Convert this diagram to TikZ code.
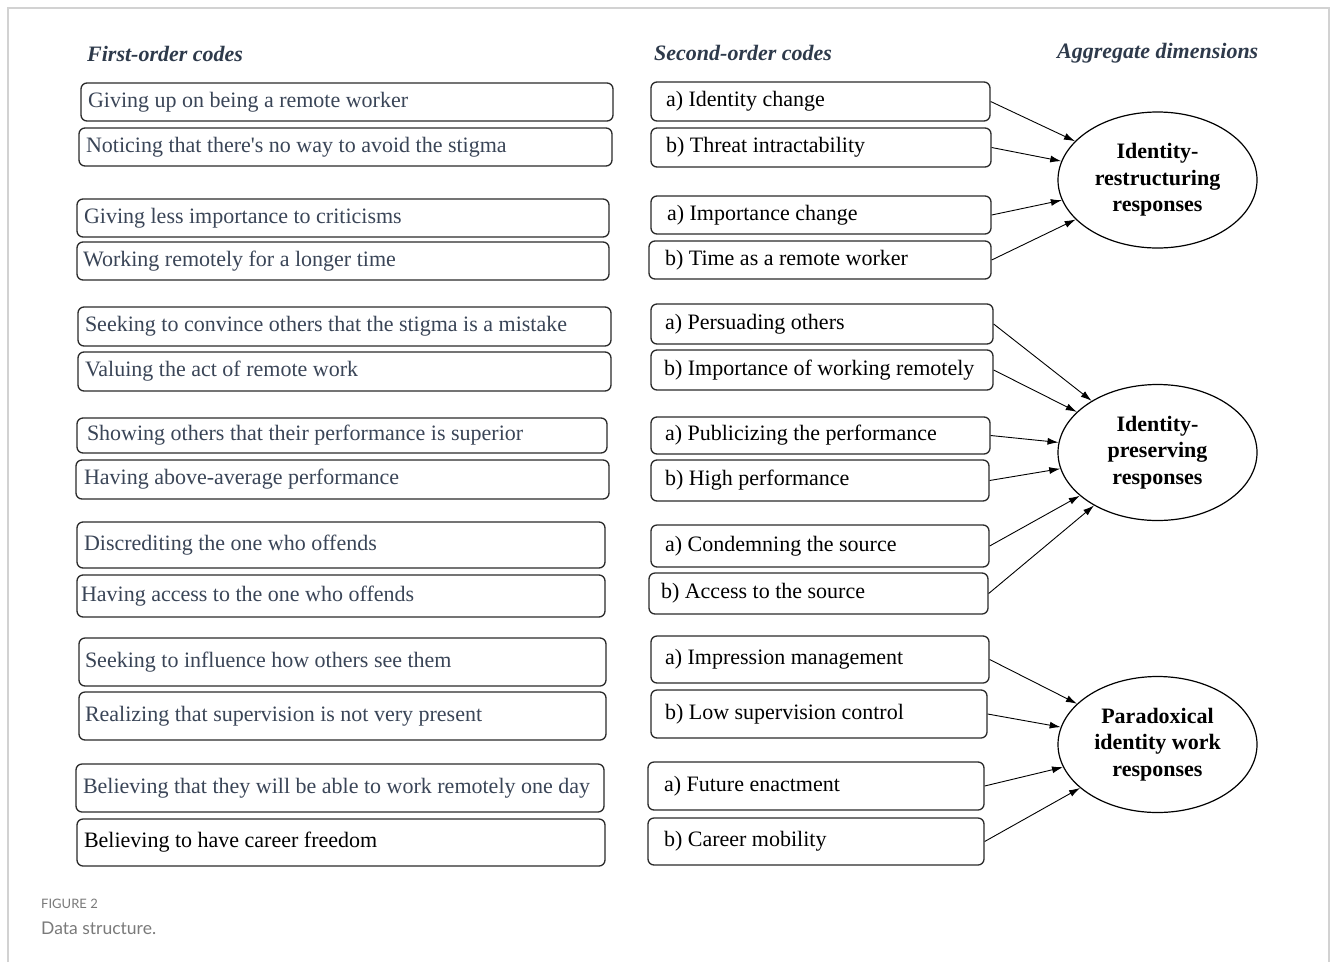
\documentclass[tikz,border=0pt]{standalone}
\usepackage{fontspec}
\setmainfont{Liberation Serif}
\newfontfamily\plainrm{Liberation Serif}
\newfontfamily\capfont{Lato}
\usetikzlibrary{shapes.geometric,arrows.meta}
\definecolor{slate}{HTML}{3A4557}
\definecolor{headc}{HTML}{2E3A4B}
\definecolor{edgec}{HTML}{2A2A2A}
\definecolor{framec}{HTML}{D2D2D2}
\definecolor{capc}{HTML}{7A7A7A}
\tikzset{
  codebox/.style={draw=edgec, line width=1.3pt, rounded corners=6pt, inner ysep=0pt,
    font=\fontsize{22}{26}\selectfont, anchor=center},
  aggell/.style={draw=black, line width=1.2pt, ellipse, inner sep=0pt,
    minimum width=199pt, minimum height=136pt, align=center,
    font=\bfseries\fontsize{22}{26.5}\selectfont},
  hdr/.style={anchor=base west, inner sep=0pt, text=headc,
    font=\bfseries\itshape\fontsize{22}{26}\selectfont},
  arr/.style={line width=0.9pt, -{Latex[length=11pt,width=7pt]}}
}
\newcommand\cbx[8]{%
  \pgfmathsetmacro\tw{#4-#2-2*#6}%
  \node[codebox, inner xsep=#6pt, text=#7, minimum height={(#5-#3)*1pt}] (#1)
    at ({(#2+#4)/2},{(#3+#5)/2}) {\raisebox{-1.5pt}{\makebox[\tw pt][l]{\strut #8}}};}
\begin{document}
\begin{tikzpicture}[x=1pt,y=-1pt]
\useasboundingbox (0,0) rectangle (1333,962);
\fill[white] (0,0) rectangle (1333,962);
\draw[framec, line width=1.6pt] (8,962) -- (8,8) -- (1329,8) -- (1329,962);

% headers
\node[hdr] (h1) at (87,61) {First-order codes};
\node[hdr] (h2) at (654,60) {Second-order codes};
\node[hdr] (h3) at (1057,58) {Aggregate dimensions};

% first-order codes
\cbx{f1}{81}{83}{613}{121}{7}{slate}{Giving up on being a remote worker}
\cbx{f2}{79}{128}{612}{166}{7}{slate}{Noticing that there{\plainrm'}s no way to avoid the stigma}
\cbx{f3}{77}{199}{609}{237}{7}{slate}{Giving less importance to criticisms}
\cbx{f4}{77}{242}{609}{280}{6}{slate}{Working remotely for a longer time}
\cbx{f5}{78}{307}{611}{346}{7}{slate}{Seeking to convince others that the stigma is a mistake}
\cbx{f6}{78}{352}{611}{391}{7}{slate}{Valuing the act of remote work}
\cbx{f7}{77}{418}{607}{453}{10}{slate}{Showing others that their performance is superior}
\cbx{f8}{76}{460}{609}{499}{8}{slate}{Having above-average performance}
\cbx{f9}{77}{522}{605}{568}{7}{slate}{Discrediting the one who offends}
\cbx{f10}{77}{575}{605}{617}{4}{slate}{Having access to the one who offends}
\cbx{f11}{79}{638}{606}{686}{6}{slate}{Seeking to influence how others see them}
\cbx{f12}{79}{692}{606}{740}{6}{slate}{Realizing that supervision is not very present}
\cbx{f13}{76}{764}{604}{812}{7}{slate}{Believing that they will be able to work remotely one day}
\cbx{f14}{77}{819}{605}{866}{7}{black}{Believing to have career freedom}

% second-order codes
\cbx{s1}{651}{82}{990}{121}{15}{black}{a) Identity change}
\cbx{s2}{651}{128}{991}{167}{15}{black}{b) Threat intractability}
\cbx{s3}{651}{196}{991}{234}{16}{black}{a) Importance change}
\cbx{s4}{649}{241}{991}{279}{16}{black}{b) Time as a remote worker}
\cbx{s5}{651}{304}{993}{344}{14}{black}{a) Persuading others}
\cbx{s6}{651}{350}{993}{390}{13}{black}{b) Importance of working remotely}
\cbx{s7}{651}{417}{990}{454}{14}{black}{a) Publicizing the performance}
\cbx{s8}{651}{460}{989}{501}{14}{black}{b) High performance}
\cbx{s9}{651}{525}{989}{567}{14}{black}{a) Condemning the source}
\cbx{s10}{649}{573}{988}{614}{12}{black}{b) Access to the source}
\cbx{s11}{651}{636}{989}{683}{14}{black}{a) Impression management}
\cbx{s12}{651}{690}{987}{738}{14}{black}{b) Low supervision control}
\cbx{s13}{648}{762}{984}{810}{16}{black}{a) Future enactment}
\cbx{s14}{648}{818}{984}{865}{16}{black}{b) Career mobility}

% aggregate dimensions
\node[aggell] (e1) at (1157.5,180) {Identity-\\restructuring\\responses};
\node[aggell] (e2) at (1157.5,452.5) {Identity-\\preserving\\responses};
\node[aggell] (e3) at (1157.5,744.5) {Paradoxical\\identity work\\responses};

% connectors
\foreach \s in {s1,s2,s3,s4} \draw[arr] (\s.east) -- (e1);
\foreach \s in {s5,s6,s7,s8,s9,s10} \draw[arr] (\s.east) -- (e2);
\foreach \s in {s11,s12,s13,s14} \draw[arr] (\s.east) -- (e3);

% caption
\node[anchor=base west, inner sep=0pt, text=capc, font=\capfont\fontsize{13}{15}\selectfont] (cap1) at (41,908) {FIGURE 2};
\node[anchor=base west, inner sep=0pt, text=capc, font=\capfont\fontsize{17.5}{20}\selectfont] (cap2) at (41,934) {Data structure.};
\end{tikzpicture}
\end{document}
